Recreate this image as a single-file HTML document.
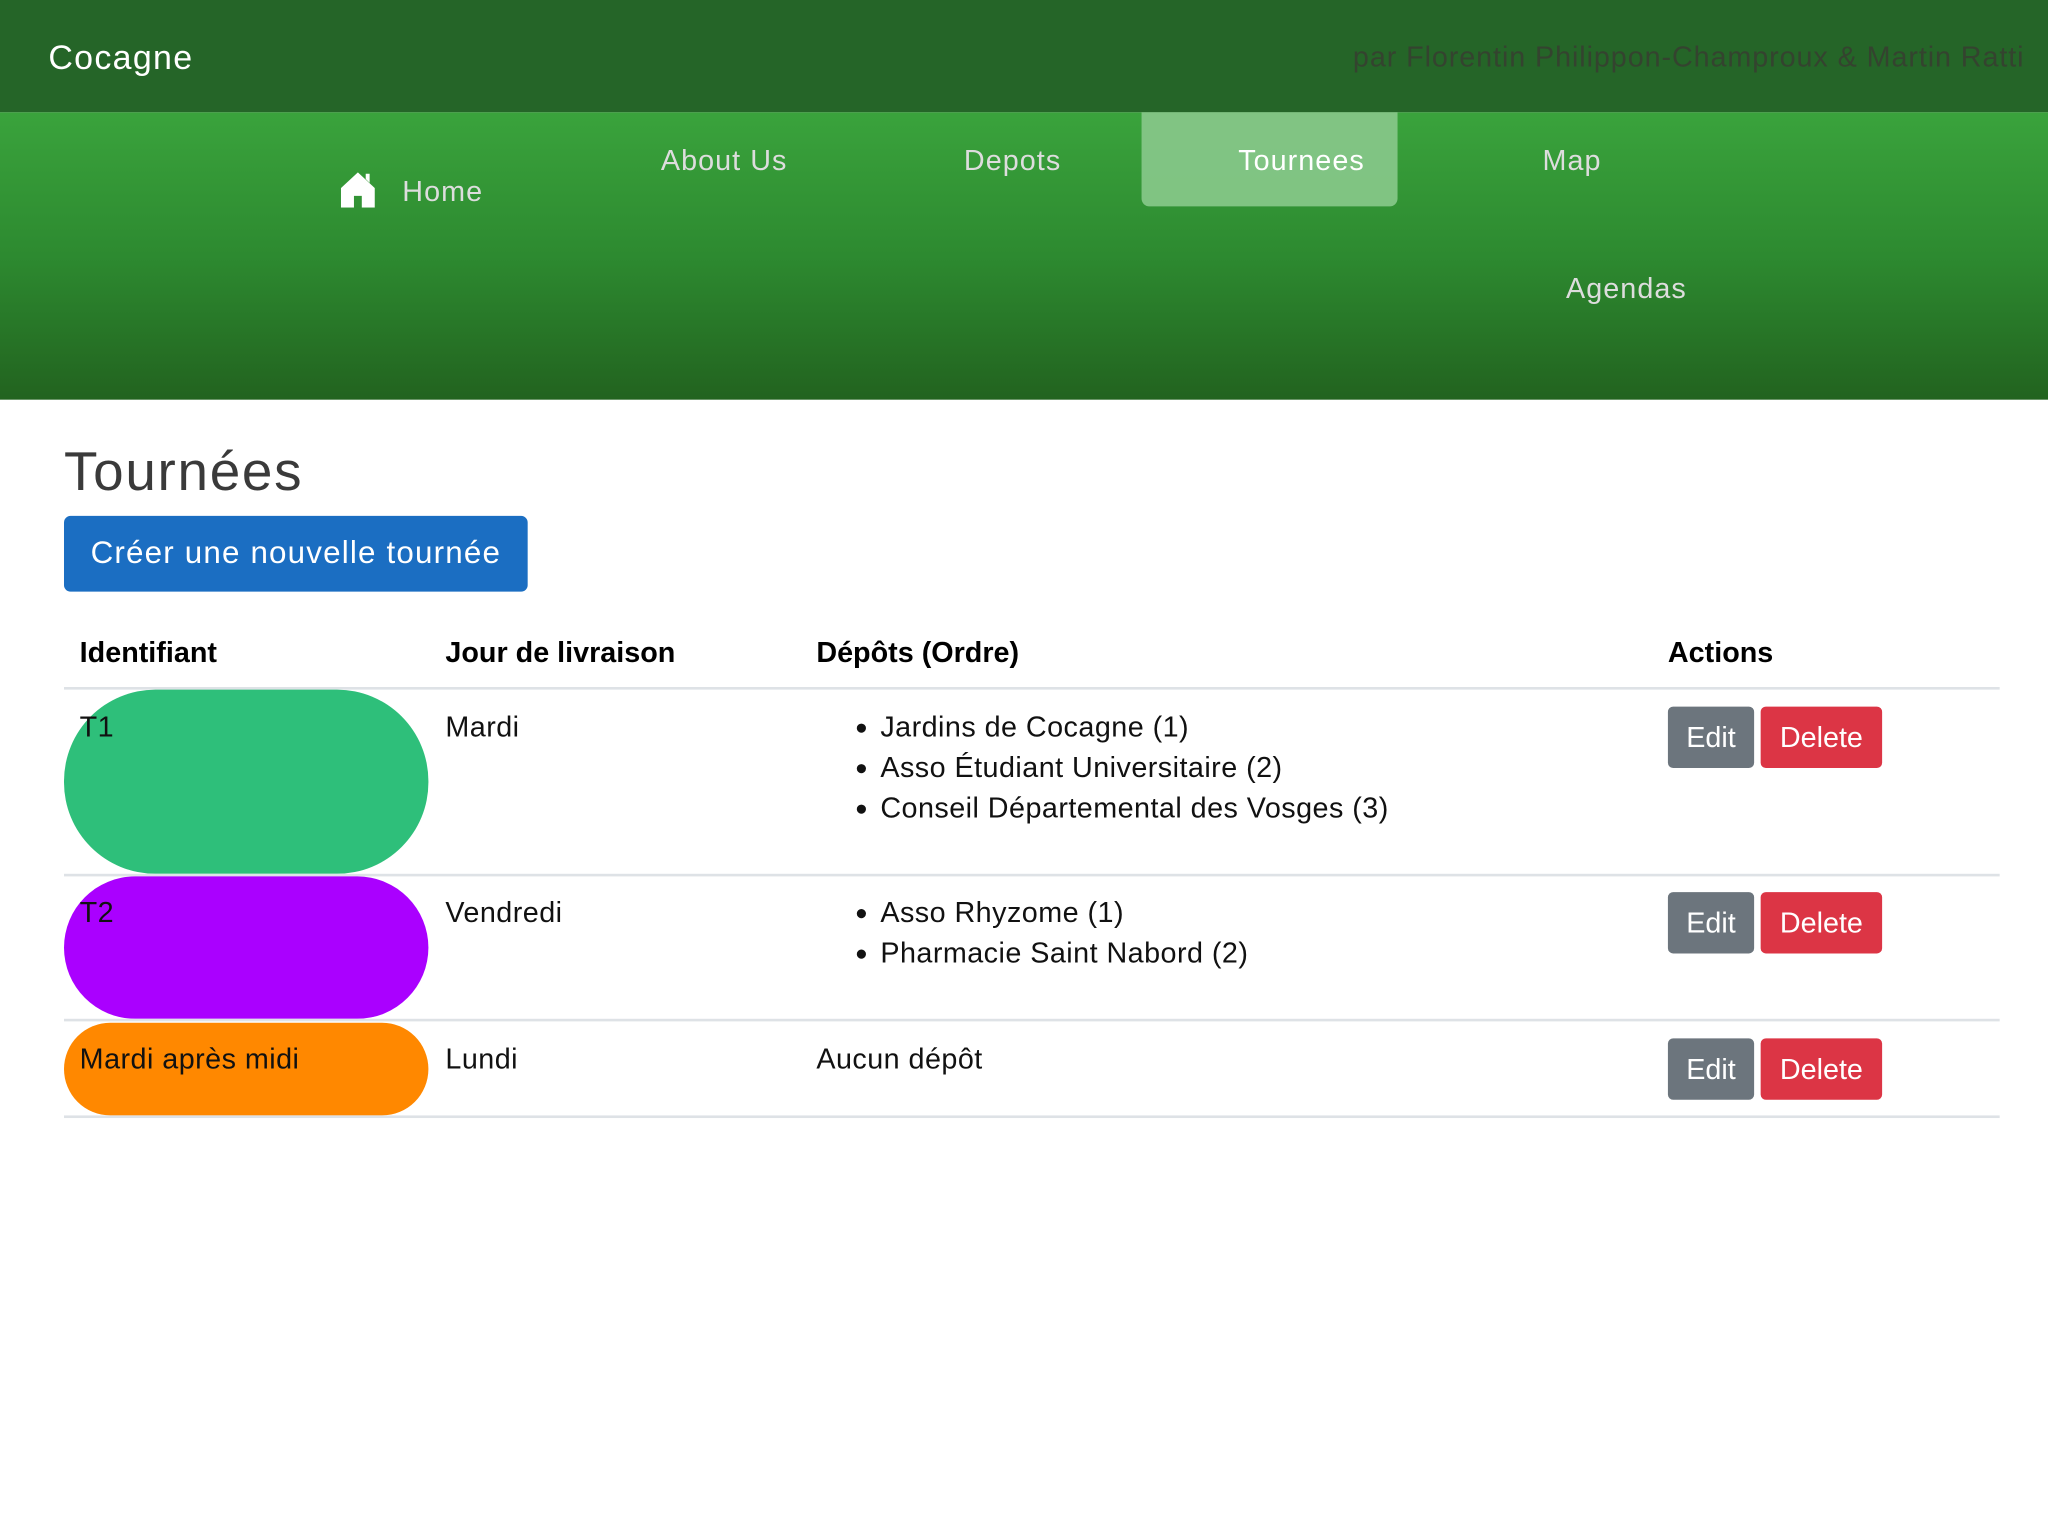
<!DOCTYPE html>
<html><head><meta charset="utf-8">
<style>
html,body{margin:0;padding:0;width:2048px;height:1536px;overflow:hidden;background:#fff;}
#w{position:absolute;left:0;top:0;width:1568px;height:1176px;transform:scale(1.30612);transform-origin:0 0;font-family:"Liberation Sans",sans-serif;}
.a{position:absolute;white-space:nowrap;line-height:1;}
.top{position:absolute;left:0;top:0;width:1568px;height:86px;background:#256528;}
.nav{position:absolute;left:0;top:86px;width:1568px;height:220px;background:linear-gradient(#3aa33c,#2d8a30 50%,#22631f);}
.ni{color:#ddd;font-size:22px;letter-spacing:0.8px;}
.th{font-weight:bold;font-size:22px;color:#000;}
.td{font-size:22px;color:#111;letter-spacing:0.35px;}
.ln{position:absolute;left:49px;width:1482px;height:2px;background:#dee2e6;}
.pill{position:absolute;left:49px;width:279px;border-radius:70px;}
.btn{position:absolute;color:#fff;font-size:22px;border-radius:4px;text-align:center;line-height:47px;height:47px;}
.bl{position:absolute;width:7px;height:7px;border-radius:50%;background:#111;left:656px;}
</style></head><body><div id="w">
<div class="top"></div>
<div class="a" style="left:37px;top:31px;font-size:26px;color:#fff;letter-spacing:1px;">Cocagne</div>
<div class="a" style="right:18px;top:33px;font-size:22px;color:#34432f;letter-spacing:0.7px;">par Florentin Philippon-Champroux &amp; Martin Ratti</div>
<div class="nav"></div>
<div style="position:absolute;left:874px;top:86px;width:196px;height:72px;background:#85c687;border-radius:0 0 6px 6px;opacity:.95"></div>
<svg style="position:absolute;left:261px;top:132px" width="26" height="27" viewBox="0 0 26 27"><path d="M13 0 L26 12 V27 H16 V18 H10 V27 H0 V12 Z M19 1 H22 V8 L19 5 Z" fill="#fff"/></svg>
<div class="a ni" style="left:308px;top:136px;">Home</div>
<div class="a ni" style="left:506px;top:112px;">About Us</div>
<div class="a ni" style="left:738px;top:112px;">Depots</div>
<div class="a ni" style="left:948px;top:112px;color:#fff;">Tournees</div>
<div class="a ni" style="left:1181px;top:112px;">Map</div>
<div class="a ni" style="left:1199px;top:210px;">Agendas</div>
<div class="a" style="left:49px;top:340px;font-size:42px;color:#3a3a3a;letter-spacing:1.3px;">Tournées</div>
<div class="btn" style="left:49px;top:395px;width:355px;height:58px;line-height:58px;background:#1b6ec2;border-radius:5px;font-size:24px;letter-spacing:0.9px;">Créer une nouvelle tournée</div>
<div class="a th" style="left:61px;top:489px;">Identifiant</div>
<div class="a th" style="left:341px;top:489px;">Jour de livraison</div>
<div class="a th" style="left:625px;top:489px;">Dépôts (Ordre)</div>
<div class="a th" style="left:1277px;top:489px;">Actions</div>
<div class="ln" style="top:526px"></div>
<div class="pill" style="top:528px;height:141px;background:#2ebf7a"></div>
<div class="a td" style="left:61px;top:546px;">T1</div>
<div class="a td" style="left:341px;top:546px;">Mardi</div>
<div class="bl" style="top:554px"></div><div class="a td" style="left:674px;top:546px;">Jardins de Cocagne (1)</div>
<div class="bl" style="top:585px"></div><div class="a td" style="left:674px;top:577px;">Asso Étudiant Universitaire (2)</div>
<div class="bl" style="top:616px"></div><div class="a td" style="left:674px;top:608px;">Conseil Départemental des Vosges (3)</div>
<div class="btn" style="left:1277px;top:541px;width:66px;background:#6c757d">Edit</div>
<div class="btn" style="left:1348px;top:541px;width:93px;background:#dc3545">Delete</div>
<div class="ln" style="top:669px"></div>
<div class="pill" style="top:671px;height:109px;background:#aa00ff"></div>
<div class="a td" style="left:61px;top:688px;">T2</div>
<div class="a td" style="left:341px;top:688px;">Vendredi</div>
<div class="bl" style="top:696px"></div><div class="a td" style="left:674px;top:688px;">Asso Rhyzome (1)</div>
<div class="bl" style="top:727px"></div><div class="a td" style="left:674px;top:719px;">Pharmacie Saint Nabord (2)</div>
<div class="btn" style="left:1277px;top:683px;width:66px;background:#6c757d">Edit</div>
<div class="btn" style="left:1348px;top:683px;width:93px;background:#dc3545">Delete</div>
<div class="ln" style="top:780px"></div>
<div class="pill" style="top:783px;height:71px;background:#ff8800"></div>
<div class="a td" style="left:61px;top:800px;">Mardi après midi</div>
<div class="a td" style="left:341px;top:800px;">Lundi</div>
<div class="a td" style="left:625px;top:800px;">Aucun dépôt</div>
<div class="btn" style="left:1277px;top:795px;width:66px;background:#6c757d">Edit</div>
<div class="btn" style="left:1348px;top:795px;width:93px;background:#dc3545">Delete</div>
<div class="ln" style="top:854px"></div>
</div></body></html>
